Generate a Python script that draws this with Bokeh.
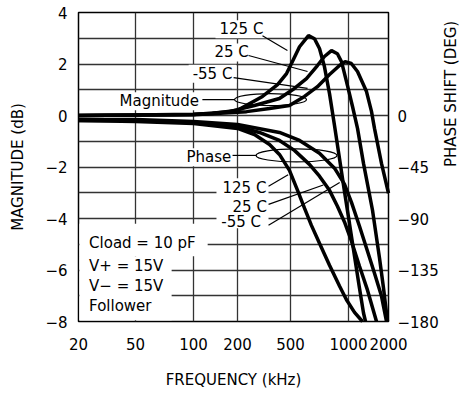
import numpy as np
from bokeh.plotting import figure
from bokeh.models import Range1d, LinearAxis, FixedTicker, Label, BoxAnnotation
from bokeh.embed import file_html
from bokeh.resources import INLINE

# ---------------- data ----------------
# frequency axis (kHz); the printed grid columns are not evenly log-spaced,
# so the x scale is a piecewise-log warp through these tick stops
TICK_FREQ = [20, 50, 100, 200, 500, 1000, 2000]
TICK_LABELS = ["20", "50", "100", "200", "500", "1000", "2000"]
GRID_STOPS = [0, 57, 115, 159, 212, 270, 310]

MAG_TICKS = [-8, -6, -4, -2, 0, 2, 4]
PHASE_TICKS = [-180, -135, -90, -45, 0]

# magnitude (dB)
MAG_125_F = [20, 50, 100, 135, 200, 308, 400, 467, 500, 557, 620, 666, 707, 750, 797, 846, 898, 953, 1017, 1110, 1210, 1297, 1343]
MAG_125 = [0.0, 0.02, 0.05, 0.08, 0.2, 0.74, 1.2, 1.63, 1.94, 2.67, 3.1, 2.98, 2.6, 1.9, 0.85, -0.39, -1.67, -2.95, -4.19, -5.47, -6.71, -7.67, -8.0]

MAG_25_F = [20, 50, 100, 176, 268, 413, 524, 605, 690, 750, 816, 876, 920, 988, 1072, 1169, 1297, 1516, 1711, 1834, 1966]
MAG_25 = [0.0, 0.02, 0.04, 0.15, 0.39, 0.66, 1.05, 1.43, 1.94, 2.29, 2.52, 2.4, 2.09, 1.16, 0.35, -0.5, -1.86, -3.68, -5.53, -6.7, -8.0]

MAG_M55_F = [20, 50, 100, 234, 348, 491, 591, 690, 797, 898, 960, 1050, 1169, 1366, 1489, 1569, 1771, 2000]
MAG_M55 = [0.0, 0.02, 0.03, 0.15, 0.27, 0.39, 0.74, 1.12, 1.59, 1.94, 2.09, 2.02, 1.71, 0.93, 0.16, -0.5, -1.86, -3.02]

# phase (degrees)
PH_125_F = [20, 50, 100, 200, 268, 348, 413, 491, 544, 591, 642, 707, 797, 898, 976, 1110, 1274]
PH_125 = [-4.4, -5.2, -7.0, -11.3, -16.6, -25.3, -34.0, -48.0, -65.4, -81.0, -96.0, -111.6, -130.8, -149.0, -161.0, -172.0, -180.0]

PH_25_F = [20, 50, 100, 200, 292, 413, 524, 627, 707, 797, 876, 953, 1053, 1210, 1390, 1625]
PH_25 = [-4.4, -4.4, -6.1, -9.6, -14.8, -21.8, -30.5, -42.7, -53.0, -65.4, -79.3, -93.0, -109.8, -131.7, -152.6, -180.0]

PH_M55_F = [20, 50, 100, 200, 413, 557, 707, 846, 953, 1053, 1210, 1390, 1569, 1771, 1932]
PH_M55 = [-3.5, -3.5, -5.2, -7.8, -14.8, -21.8, -33.0, -46.0, -60.0, -75.9, -96.8, -118.6, -137.8, -157.8, -180.0]

# boxed annotation texts: (text, freq kHz, dB)
NOTES = [
    ("Magnitude", 38.7, 0.55),
    ("Phase", 92, -1.62),
    ("-55 C", 99, 1.62),
    ("25 C", 139, 2.45),
    ("125 C", 150.6, 3.35),
]
# phase temperature labels (sit on one shared white area)
PH_NOTES = [
    ("125 C", 158, -2.8),
    ("25 C", 185, -3.55),
    ("-55 C", 155, -4.13),
]
CONDITIONS = ["Cload = 10 pF", "V+ = 15V", "V\u2212 = 15V", "Follower"]
COND_F = 23.7
COND_DB = [-4.95, -5.83, -6.62, -7.39]
# white areas that interrupt the grid: (f0, f1, dB0, dB1)
WHITE_BOXES = [(20.3, 125, -4.2, -5.47), (20.3, 77, -5.47, -7.95), (143.6, 342, -2.44, -4.38)]

# leader lines: (f0, dB0, f1, dB1)
LEADERS = [
    (308, 3.1, 474, 2.52),
    (242, 2.33, 613, 1.71),
    (188, 1.47, 613, 1.05),
    (115, 0.62, 191, 0.62),
    (185, -1.55, 278, -1.55),
    (342, -2.75, 480, -2.3),
    (342, -3.45, 740, -2.7),
    (342, -4.26, 900, -2.6),
]
# ellipses: (freq, dB, width px, height px)
RINGS = [(354, 0.62, 72, 12), (537, -1.55, 81, 13)]

FONT = "DejaVu Sans"


def fx(f):
    return np.interp(np.log10(np.asarray(f, dtype=float)), np.log10(TICK_FREQ), GRID_STOPS)


p = figure(frame_width=310, frame_height=309, x_range=Range1d(GRID_STOPS[0], GRID_STOPS[-1]),
           y_range=Range1d(-8, 4), output_backend="svg", toolbar_location=None,
           min_border_left=78, min_border_right=70, min_border_top=12, min_border_bottom=72,
           x_axis_label="FREQUENCY (kHz)", y_axis_label="MAGNITUDE (dB)")
p.extra_y_ranges = {"phase": Range1d(-180, 90)}
p.outline_line_color = "black"
p.outline_line_width = 1.5
p.background_fill_color = "white"
p.border_fill_color = "white"

p.xaxis.ticker = FixedTicker(ticks=GRID_STOPS)
p.xaxis.major_label_overrides = {s: l for s, l in zip(GRID_STOPS, TICK_LABELS)}
p.yaxis.ticker = FixedTicker(ticks=MAG_TICKS)

ra = LinearAxis(y_range_name="phase", ticker=FixedTicker(ticks=PHASE_TICKS),
                axis_label="PHASE SHIFT (DEG)")
p.add_layout(ra, "right")

for ax in [p.xaxis[0], p.yaxis[0], ra]:
    ax.axis_line_color = None
    ax.major_tick_line_color = None
    ax.minor_tick_line_color = None
    ax.major_tick_out = 0
    ax.major_tick_in = 0
    ax.minor_tick_out = 0
    ax.minor_tick_in = 0
    ax.major_label_text_font = FONT
    ax.major_label_text_font_size = "15px"
    ax.major_label_text_color = "black"
    ax.axis_label_text_font = FONT
    ax.axis_label_text_font_size = "15px"
    ax.axis_label_text_font_style = "normal"
    ax.axis_label_text_color = "black"

p.xaxis.major_label_standoff = 16
p.xaxis.axis_label_standoff = 18
p.yaxis.major_label_standoff = 11
p.yaxis.axis_label_standoff = 15
ra.major_label_standoff = 9
ra.axis_label_standoff = 9
ra.axis_label_orientation = np.pi / 2

p.xgrid.ticker = FixedTicker(ticks=GRID_STOPS)
p.ygrid.ticker = FixedTicker(ticks=list(range(-8, 5)))
for g in [p.xgrid[0], p.ygrid[0]]:
    g.grid_line_color = "#333333"
    g.grid_line_width = 1.3

# curves
for f, v in [(MAG_125_F, MAG_125), (MAG_25_F, MAG_25), (MAG_M55_F, MAG_M55)]:
    p.line(fx(f), v, line_color="black", line_width=3.5, level="overlay")
for f, v in [(PH_125_F, PH_125), (PH_25_F, PH_25), (PH_M55_F, PH_M55)]:
    p.line(fx(f), v, y_range_name="phase", line_color="black", line_width=3.5, level="overlay")

# leaders and rings
for f0, d0, f1, d1 in LEADERS:
    p.segment(x0=[float(fx(f0))], y0=[d0], x1=[float(fx(f1))], y1=[d1],
              line_color="black", line_width=1.2, level="overlay")
for f, d, w, h in RINGS:
    p.ellipse(x=[float(fx(f))], y=[d], width=w, height=h, width_units="screen",
              height_units="screen", fill_color=None, line_color="black",
              line_width=1.2, level="overlay")

# white areas (interrupting the grid as in the original), then texts
for f0, f1, d0, d1 in WHITE_BOXES:
    p.add_layout(BoxAnnotation(left=float(fx(f0)), right=float(fx(f1)), top=d0, bottom=d1,
                               fill_color="white", fill_alpha=1.0, line_color=None))
for t, f, d in NOTES:
    p.add_layout(Label(x=float(fx(f)), y=d, text=t, text_font=FONT, text_font_size="15px",
                       text_baseline="middle", text_align="left", text_color="black",
                       background_fill_color="white", padding=(4, 0), x_offset=-4))
for t, f, d in PH_NOTES:
    p.add_layout(Label(x=float(fx(f)), y=d, text=t, text_font=FONT, text_font_size="15px",
                       text_baseline="middle", text_align="left", text_color="black"))
for t, d in zip(CONDITIONS, COND_DB):
    p.add_layout(Label(x=float(fx(COND_F)), y=d, text=t, text_font=FONT, text_font_size="15px",
                       text_baseline="middle", text_align="left", text_color="black"))

open("out.html", "w").write(file_html(p, INLINE))
